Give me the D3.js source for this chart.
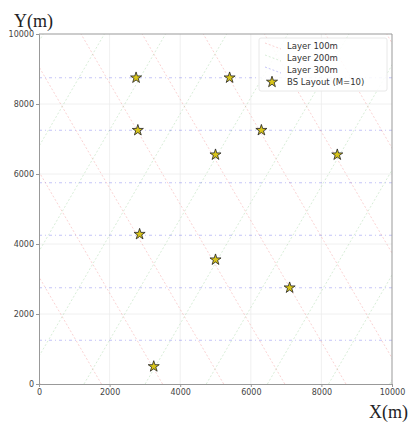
<!DOCTYPE html>
<html>
<head>
<meta charset="utf-8">
<script src="https://cdn.jsdelivr.net/npm/d3@7"></script>
<style>
  body { margin: 0; background: #fff; }
  svg { display: block; }
</style>
</head>
<body>
<div id="chart"></div>
<script>
// base station positions (m)
const bsX = [2750, 5400, 2800, 6300, 5000, 8450, 2850, 5000, 7100, 3250];
const bsY = [8750, 8750, 7250, 7250, 6550, 6550, 4280, 3550, 2750, 500];

// lattice lines (m)
const hLineY = [1250, 2750, 4250, 5750, 7250, 8750];
const greenC = [-5653, -3921, -2189, -457, 1275, 3007, 4739, 6471, 8203, 9935]; // x at y=0, +60 deg
const redD = [36, 1768, 3500, 5232, 6964, 8696, 10428, 12160, 13892, 15624];   // x at y=0, -60 deg

const xTicks = [0, 2000, 4000, 6000, 8000, 10000];
const yTicks = [0, 2000, 4000, 6000, 8000, 10000];
const legendLabels = ["Layer 100m", "Layer 200m", "Layer 300m", "BS Layout (M=10)"];

const W = 409, H = 424;
const margin = { top: 34, right: 17, bottom: 40, left: 39 };
const width = W - margin.left - margin.right;
const height = H - margin.top - margin.bottom;

const svg = d3.select("#chart").append("svg")
    .attr("width", W)
    .attr("height", H);

const g = svg.append("g")
    .attr("transform", `translate(${margin.left},${margin.top})`);

const x = d3.scaleLinear().domain([0, 10000]).range([0, width]);
const y = d3.scaleLinear().domain([0, 10000]).range([height, 0]);

g.append("clipPath").attr("id", "clip")
    .append("rect").attr("width", width).attr("height", height);

// grid
g.append("g").selectAll("line").data(xTicks.slice(1, -1)).enter().append("line")
    .attr("x1", d => x(d)).attr("x2", d => x(d))
    .attr("y1", 0).attr("y2", height)
    .attr("stroke", "#ececec").attr("stroke-width", 0.8);
g.append("g").selectAll("line").data(yTicks.slice(1, -1)).enter().append("line")
    .attr("y1", d => y(d)).attr("y2", d => y(d))
    .attr("x1", 0).attr("x2", width)
    .attr("stroke", "#ececec").attr("stroke-width", 0.8);

const lines = g.append("g").attr("clip-path", "url(#clip)");
const k = 10000 / Math.sqrt(3);

const red = "rgba(235,70,70,0.3)";
const green = "rgba(90,180,90,0.3)";
const blue = "rgba(60,60,230,0.38)";

lines.selectAll(".red").data(redD).enter().append("line")
    .attr("x1", d => x(d)).attr("y1", y(0))
    .attr("x2", d => x(d - k)).attr("y2", y(10000))
    .attr("stroke", red).attr("stroke-width", 0.8)
    .attr("stroke-dasharray", "2,2");

lines.selectAll(".green").data(greenC).enter().append("line")
    .attr("x1", d => x(d)).attr("y1", y(0))
    .attr("x2", d => x(d + k)).attr("y2", y(10000))
    .attr("stroke", green).attr("stroke-width", 0.8)
    .attr("stroke-dasharray", "2,2");

lines.selectAll(".blue").data(hLineY).enter().append("line")
    .attr("x1", 0).attr("x2", width)
    .attr("y1", d => y(d)).attr("y2", d => y(d))
    .attr("stroke", blue).attr("stroke-width", 0.8)
    .attr("stroke-dasharray", "3,3,1,3");

// axes
const fmt = d3.format("d");
const xAxis = g.append("g")
    .attr("transform", `translate(0,${height})`)
    .call(d3.axisBottom(x).tickValues(xTicks).tickFormat(fmt).tickSize(3).tickPadding(2));
const yAxis = g.append("g")
    .call(d3.axisLeft(y).tickValues(yTicks).tickFormat(fmt).tickSize(3).tickPadding(2));
[xAxis, yAxis].forEach(a => {
    a.select(".domain").attr("stroke", "#999");
    a.selectAll(".tick line").attr("stroke", "#999");
    a.selectAll(".tick text")
        .attr("fill", "#444")
        .style("font-family", "DejaVu Sans")
        .style("font-size", "8px");
});

// top/right frame
g.append("line").attr("x1", 0).attr("x2", width).attr("y1", 0).attr("y2", 0)
    .attr("stroke", "#999");
g.append("line").attr("x1", width).attr("x2", width).attr("y1", 0).attr("y2", height)
    .attr("stroke", "#999");

// stars
const star = d3.symbol().type(d3.symbolStar).size(38);
g.selectAll(".bs").data(bsX).enter().append("path")
    .attr("d", star)
    .attr("transform", (d, i) => `translate(${x(d)},${y(bsY[i])})`)
    .attr("fill", "#d8c419")
    .attr("stroke", "#222")
    .attr("stroke-width", 0.8);

// legend
const leg = svg.append("g").attr("transform", "translate(259,38)");
leg.append("rect")
    .attr("width", 128).attr("height", 53).attr("rx", 2)
    .attr("fill", "rgba(255,255,255,0.85)")
    .attr("stroke", "#e8e8e8");
const legColors = [red, green, blue];
legendLabels.forEach((lab, i) => {
    const ly = 8 + i * 12;
    if (i < 3) {
        leg.append("line")
            .attr("x1", 6).attr("x2", 22).attr("y1", ly - 3).attr("y2", ly + 3)
            .attr("stroke", legColors[i]).attr("stroke-width", 0.8)
            .attr("stroke-dasharray", "2,2");
    } else {
        leg.append("path").attr("d", star)
            .attr("transform", `translate(13,${ly})`)
            .attr("fill", "#d8c419").attr("stroke", "#222").attr("stroke-width", 0.8);
    }
    leg.append("text")
        .attr("x", 28).attr("y", ly).attr("dy", "0.35em")
        .attr("fill", "#333")
        .style("font-family", "DejaVu Sans")
        .style("font-size", "8.5px")
        .text(lab);
});

// axis titles
svg.append("text").attr("x", 14).attr("y", 27)
    .style("font-family", "Liberation Serif")
    .style("font-size", "18px").attr("fill", "#222")
    .text("Y(m)");
svg.append("text").attr("x", 408).attr("y", 418)
    .attr("text-anchor", "end")
    .style("font-family", "Liberation Serif")
    .style("font-size", "18px").attr("fill", "#222")
    .text("X(m)");
</script>
</body>
</html>
